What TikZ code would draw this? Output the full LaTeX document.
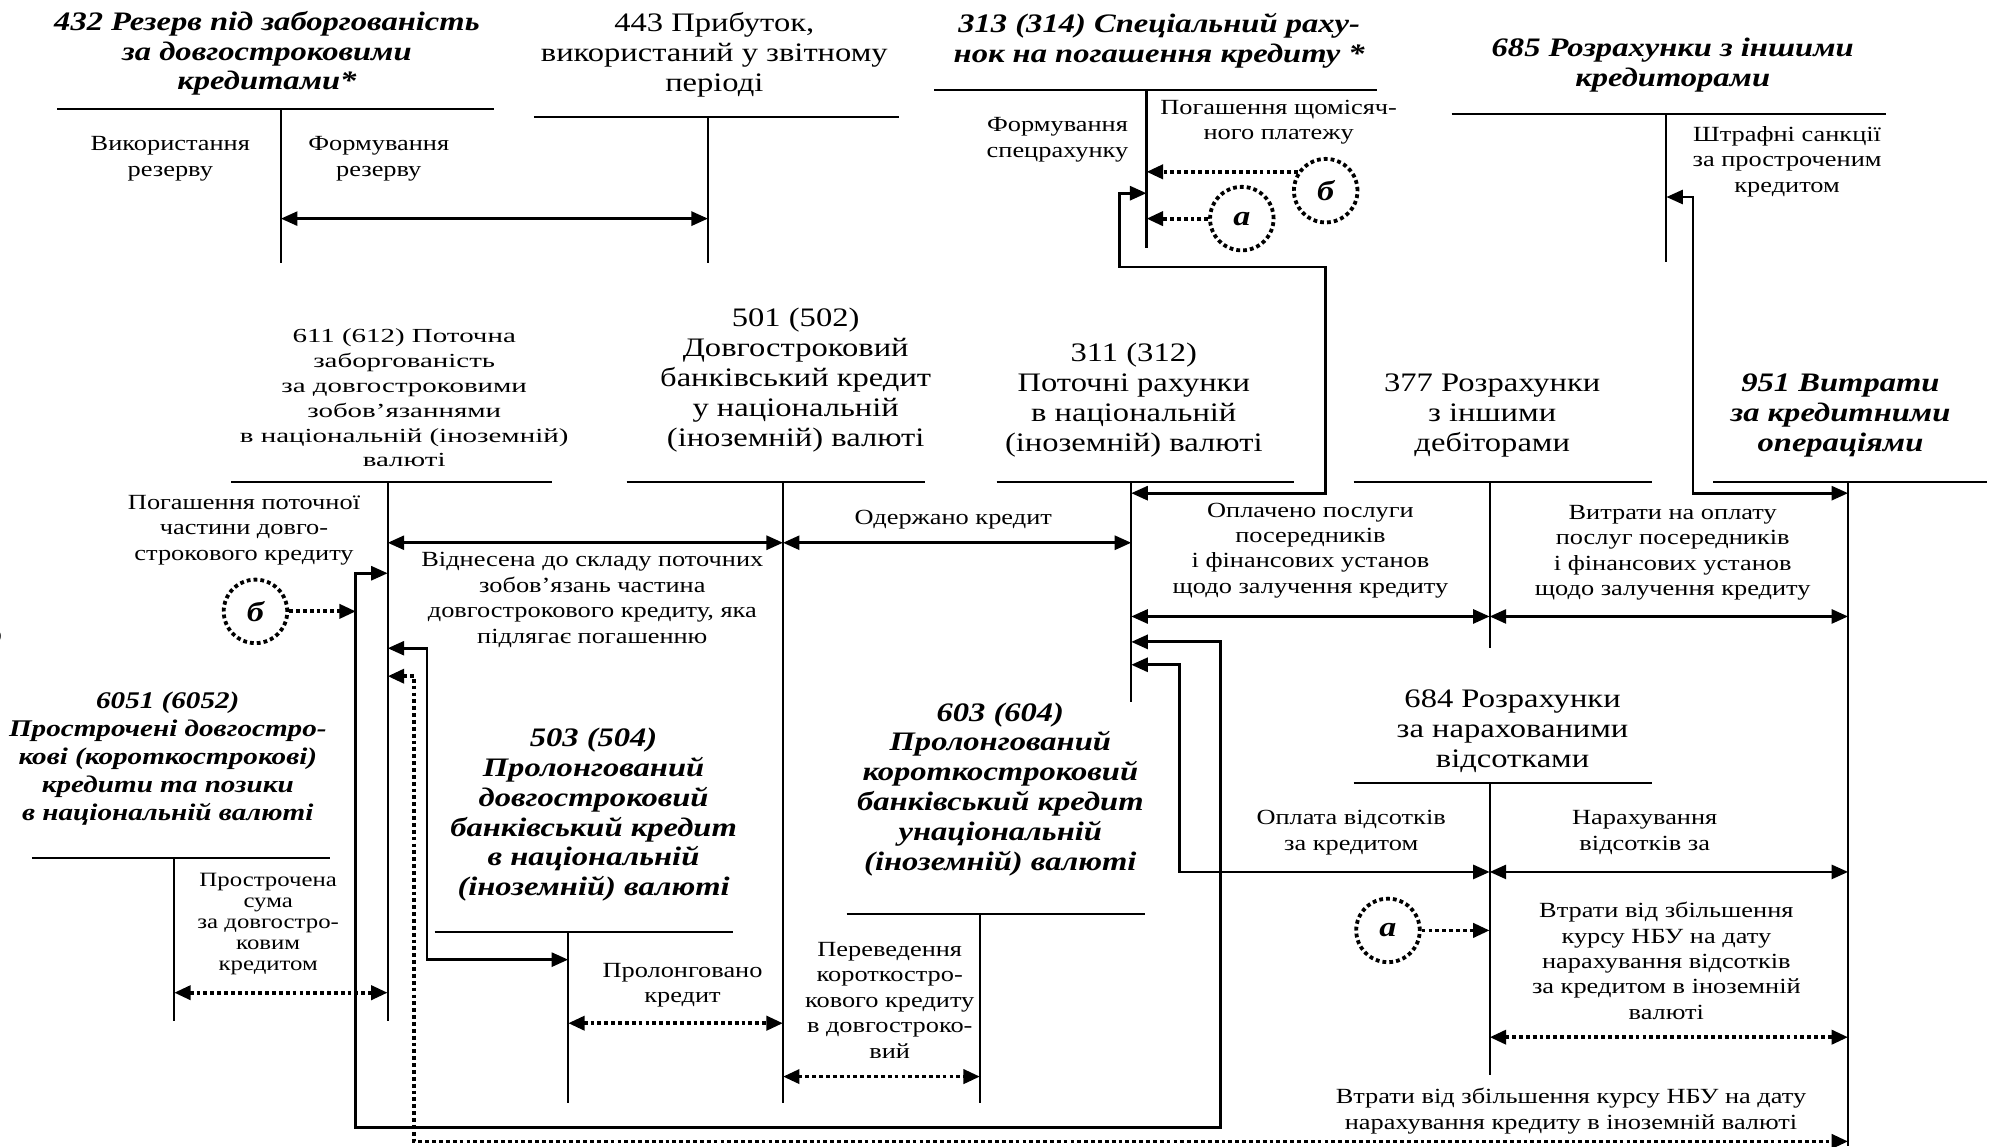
\documentclass[tikz,border=0pt]{standalone}
\usepackage{fontspec}
\setmainfont[FakeStretch=1.22]{Liberation Serif}
\newfontfamily\wideserif[FakeStretch=1.45]{Liberation Serif}
\usetikzlibrary{arrows.meta,calc}

% T-account: name, left end, right end, top line y, stem x, stem bottom y
\newcommand{\tacct}[6]{%
  \coordinate (#1-l) at (#2,#4);
  \coordinate (#1-r) at (#3,#4);
  \coordinate (#1-t) at (#5,#4);
  \coordinate (#1-b) at (#5,#6);
  \draw[tline] (#1-l) -- (#1-r);
  \draw[tline] (#1-t) -- (#1-b);
}

\begin{document}
\begin{tikzpicture}[x=1pt,y=-1pt,
  tline/.style={line width=1.6pt},
  conn/.style={line width=2.2pt},
  tips/.style={{Triangle[length=13pt,width=11pt]}-{Triangle[length=13pt,width=11pt]}},
  tipend/.style={-{Triangle[length=13pt,width=11pt]}},
  dotline/.style={line width=3pt, dash pattern=on 3pt off 2.4pt},
  lab/.style={align=center, inner sep=0pt, font=\fontsize{17}{20}\selectfont},
  rhead/.style={align=center, inner sep=0pt, font=\fontsize{21}{23.5}\selectfont},
  bhead/.style={align=center, inner sep=0pt, font=\fontsize{21}{23.5}\selectfont\bfseries\itshape},
  letterring/.style={circle, draw, dotline, minimum size=50pt, inner sep=0pt,
    font=\fontsize{22}{22}\selectfont\bfseries\itshape},
]
\useasboundingbox (0,0) rectangle (1568,902);

% ---------- T-accounts ----------
\tacct{a432}{45}{389}{86}{221}{207}
\tacct{a443}{420}{707}{92}{557}{207}
\tacct{a313}{735}{1083}{71}{902}{195}
\tacct{a685}{1142}{1484}{90}{1311}{206}
\tacct{a611}{182}{434}{379}{305}{803}
\tacct{a501}{493}{728}{379}{616}{868}
\tacct{a311}{784}{1018}{379}{890}{552}
\tacct{a377}{1065}{1300}{379}{1172}{510}
\tacct{a951}{1348}{1563}{379}{1454}{902}
\tacct{a6051}{25}{260}{675}{137}{803}
\tacct{a503}{342}{577}{733}{447}{868}
\tacct{a603}{666}{901}{719}{771}{868}
\tacct{a684}{1065}{1300}{616}{1172}{846}

% ---------- account titles ----------
\node[bhead] (h432) at (210,42) {432 Резерв під заборгованість\\за довгостроковими\\кредитами*};
\node[rhead] (h443) at (562,43) {443 Прибуток,\\використаний у звітному\\періоді};
\node[bhead] (h313) at (912,32) {313 (314) Спеціальний раху-\\нок на погашення кредиту *};
\node[bhead] (h685) at (1316,51) {685 Розрахунки з іншими\\кредиторами};
\node[align=center, inner sep=0pt, font=\wideserif\fontsize{15.7}{19.6}\selectfont] (h611) at (318,313)
  {611 (612) Поточна\\заборгованість\\за довгостроковими\\зобов’язаннями\\в національній (іноземній)\\валюті};
\node[rhead] (h501) at (626,299) {501 (502)\\Довгостроковий\\банківський кредит\\у національній\\(іноземній) валюті};
\node[rhead] (h311) at (892,315) {311 (312)\\Поточні рахунки\\в національній\\(іноземній) валюті};
\node[rhead] (h377) at (1174,327) {377 Розрахунки\\з іншими\\дебіторами};
\node[bhead] (h951) at (1448,327) {951 Витрати\\за кредитними\\операціями};
\node[align=center, inner sep=0pt, font=\fontsize{18.8}{22}\selectfont\bfseries\itshape] (h6051) at (132,597)
  {6051 (6052)\\Прострочені довгостро-\\кові (короткострокові)\\кредити та позики\\в національній валюті};
\node[bhead] (h503) at (467,641) {503 (504)\\Пролонгований\\довгостроковий\\банківський кредит\\в національній\\(іноземній) валюті};
\node[bhead] (h603) at (787,621) {603 (604)\\Пролонгований\\короткостроковий\\банківський кредит\\унаціональній\\(іноземній) валюті};
\node[rhead] (h684) at (1190,575) {684 Розрахунки\\за нарахованими\\відсотками};

% ---------- entry labels ----------
\node[lab] (l1) at (134,125) {Використання\\резерву};
\node[lab] (l2) at (298,125) {Формування\\резерву};
\node[lab] (l3) at (832,110) {Формування\\спецрахунку};
\node[lab] (l4) at (1006,96) {Погашення щомісяч-\\ного платежу};
\node[lab] (l5) at (1406,127) {Штрафні санкції\\за простроченим\\кредитом};
\node[lab] (l6) at (192,417) {Погашення поточної\\частини довго-\\строкового кредиту};
\node[lab] (l7) at (466,472) {Віднесена до складу поточних\\зобов’язань частина\\довгострокового кредиту, яка\\підлягає погашенню};
\node[lab] (l8) at (750,409) {Одержано кредит};
\node[lab] (l9) at (1031,433) {Оплачено послуги\\посередників\\і фінансових установ\\щодо залучення кредиту};
\node[lab] (l10) at (1316,435) {Витрати на оплату\\послуг посередників\\і фінансових установ\\щодо залучення кредиту};
\node[align=center, inner sep=0pt, font=\fontsize{16}{16.5}\selectfont] (l11) at (211,727)
  {Прострочена\\сума\\за довгостро-\\ковим\\кредитом};
\node[lab] (l12) at (537,775) {Пролонговано\\кредит};
\node[lab] (l13) at (700,787) {Переведення\\короткостро-\\кового кредиту\\в довгостроко-\\вий};
\node[lab] (l14) at (1063,655) {Оплата відсотків\\за кредитом};
\node[lab] (l15) at (1294,655) {Нарахування\\відсотків за};
\node[lab] (l16) at (1311,756) {Втрати від збільшення\\курсу НБУ на дату\\нарахування відсотків\\за кредитом в іноземній\\валюті};
\node[lab] (l17) at (1236,874) {Втрати від збільшення курсу НБУ на дату\\нарахування кредиту в іноземній валюті};

% ---------- lettered references ----------
\node[letterring] (b1) at (1043,150) {б};
\node[letterring] (a1) at (977,172) {а};
\node[letterring] (b2) at (201,481) {б};
\node[letterring] (a2) at (1092,732) {а};

% page number at the edge
\node[inner sep=0pt, font=\fontsize{36}{36}\selectfont] (pg) at (-8,495) {8};

% ---------- corner points of routed connectors ----------
\coordinate (c313a) at (881,152);
\coordinate (c313b) at (881,210);
\coordinate (c313c) at (1043,210);
\coordinate (c313d) at (1043,388);
\coordinate (c685a) at (1332,155);
\coordinate (c685b) at (1332,388);
\coordinate (loopA) at (280,451);
\coordinate (loopB) at (280,887);
\coordinate (loopC) at (960,887);
\coordinate (loopD) at (960,505);
\coordinate (c503a) at (336,510);
\coordinate (c503b) at (336,755);
\coordinate (dotA) at (326,532);
\coordinate (dotB) at (326,898);
\coordinate (c684a) at (928,523);
\coordinate (c684b) at (928,686);

% ---------- solid connectors ----------
\draw[conn,tips] (a432-t |- 0,172) -- (a443-t |- 0,172);
\draw[conn,tips] (a313-t |- c313a) -- (c313a) -- (c313b) -- (c313c) -- (c313d) -- (a311-t |- c313d);
\draw[conn,tips] (a685-t |- c685a) -- (c685a) -- (c685b) -- (a951-t |- c685b);
\draw[conn,tips] (a611-t |- 0,427) -- (a501-t |- 0,427);
\draw[conn,tips] (a501-t |- 0,427) -- (a311-t |- 0,427);
\draw[conn,tips] (a311-t |- 0,485) -- (a377-t |- 0,485);
\draw[conn,tips] (a377-t |- 0,485) -- (a951-t |- 0,485);
\draw[conn,tips] (a611-t |- loopA) -- (loopA) -- (loopB) -- (loopC) -- (loopD) -- (a311-t |- loopD);
\draw[conn,tips] (a611-t |- c503a) -- (c503a) -- (c503b) -- (a503-t |- c503b);
\draw[conn,tips] (a311-t |- c684a) -- (c684a) -- (c684b) -- (a684-t |- c684b);
\draw[conn,tips] (a684-t |- c684b) -- (a951-t |- c684b);

% ---------- dotted connectors ----------
\draw[dotline,tips] (a611-t |- dotA) -- (dotA) -- (dotB) -- (a951-t |- dotB);
\draw[dotline,tips] (a684-t |- 0,816) -- (a951-t |- 0,816);
\draw[dotline,tips] (a6051-t |- 0,781) -- (a611-t |- 0,781);
\draw[dotline,tips] (a503-t |- 0,805) -- (a501-t |- 0,805);
\draw[dotline,tips] (a501-t |- 0,847) -- (a603-t |- 0,847);
\draw[dotline,tipend] (b1.146) -- (b1.146 -| a313-t);
\draw[dotline,tipend] (a1.west) -- (a1.west -| a313-t);
\draw[dotline,tipend] (b2.east) -- (b2.east -| loopA);
\draw[dotline,tipend] (a2.east) -- (a2.east -| a684-t);
\end{tikzpicture}
\end{document}
